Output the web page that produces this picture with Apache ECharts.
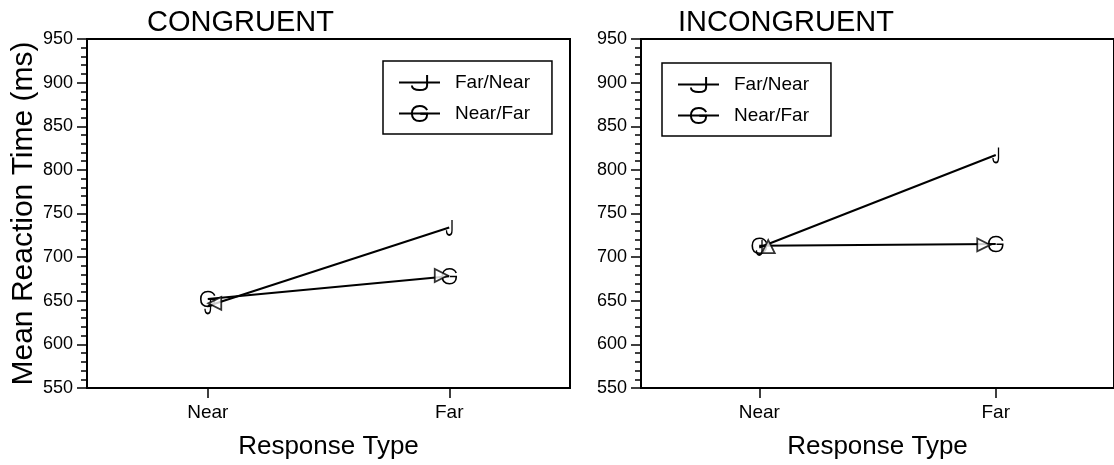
<!DOCTYPE html>
<html><head><meta charset="utf-8">
<script src="https://cdn.jsdelivr.net/npm/echarts@6/dist/echarts.min.js"></script>
<style>html,body{margin:0;padding:0;background:#fff}#c{width:1114px;height:465px}</style>
</head><body><div id="c"></div>
<script>
// ---- data ----
var categories = ['Near', 'Far'];
var yTicks = [550, 600, 650, 700, 750, 800, 850, 900, 950];
var seriesNames = ['Far/Near', 'Near/Far'];
var panelTitles = ['CONGRUENT', 'INCONGRUENT'];
var congFarNear = [644, 734];
var congNearFar = [652, 678];
var congArrow = [647, 679];
var incFarNear = [711, 817];
var incNearFar = [713, 715];
var incArrow = [711, 714];

// ---- styles ----
var FONT = 'Liberation Sans, Arial, sans-serif';
var J_PATH = 'path://M9,0 L9,10 C9,13.5 7.2,14.5 5,14.5 C2.6,14.5 1,13 1,10';
var G_PATH = 'path://M14,4 C13,1.5 11,0 7.5,0 C3,0 0.6,3 0.6,7.2 C0.6,11.4 3,14.4 7.5,14.4 C11.6,14.4 14,11.8 14,8.2 L14,7.4 L8,7.4';

function yAxis(idx, withName) {
  return {
    type: 'value', gridIndex: idx, min: 550, max: 950, interval: 50,
    axisLine: {show: true, lineStyle: {color: '#000', width: 2}},
    axisTick: {show: true, length: 10, lineStyle: {color: '#000', width: 1.5}},
    minorTick: {show: true, splitNumber: 5, length: 6, lineStyle: {color: '#000', width: 1.5}},
    splitLine: {show: false},
    axisLabel: {color: '#000', fontFamily: FONT, fontSize: 18, margin: 14,
      formatter: function (v) { return yTicks.indexOf(v) >= 0 ? String(v) : ''; }},
    name: withName ? 'Mean Reaction Time (ms)' : '',
    nameLocation: 'middle', nameGap: 47,
    nameTextStyle: {color: '#000', fontFamily: FONT, fontSize: 30}
  };
}
function xAxis(idx) {
  return {
    type: 'category', gridIndex: idx, data: categories, boundaryGap: true,
    axisLine: {show: true, lineStyle: {color: '#000', width: 2}},
    axisTick: {show: true, alignWithLabel: true, length: 10, lineStyle: {color: '#000', width: 1.5}},
    axisLabel: {color: '#000', fontFamily: FONT, fontSize: 19, margin: 15},
    name: 'Response Type', nameLocation: 'middle', nameGap: 46,
    nameTextStyle: {color: '#000', fontFamily: FONT, fontSize: 26}
  };
}
function lineSeries(name, idx, data, path, size) {
  return {
    name: name, type: 'line', xAxisIndex: idx, yAxisIndex: idx, data: data,
    color: '#000', symbol: path, symbolSize: size, symbolKeepAspect: true,
    showSymbol: true,
    lineStyle: {color: '#000', width: 2},
    itemStyle: {color: 'rgba(0,0,0,0)', borderColor: '#000', borderWidth: 1.6},
    emphasis: {disabled: true}, z: 3
  };
}
function arrowSeries(idx, vals, rots, offs) {
  return {
    name: 'arrow', type: 'scatter', xAxisIndex: idx, yAxisIndex: idx,
    data: vals.map(function (v, i) {
      return {value: [categories[i], v], symbolRotate: rots[i], symbolOffset: offs[i]};
    }),
    symbol: 'triangle', symbolSize: [13, 13],
    itemStyle: {color: '#fff', borderColor: '#000', borderWidth: 1.8},
    emphasis: {disabled: true}, z: 4
  };
}
function legend(left, top) {
  return {
    data: seriesNames, orient: 'vertical', left: left, top: top,
    itemWidth: 41, itemHeight: 19, itemGap: 12,
    padding: [12, 22, 11, 15],
    borderColor: '#000', borderWidth: 1.5, backgroundColor: '#fff',
    textStyle: {color: '#000', fontFamily: FONT, fontSize: 19, padding: [0, 0, 0, 10]}
  };
}

var chart = echarts.init(document.getElementById('c'), null, {renderer: 'canvas'});
chart.setOption({
  animation: false,
  backgroundColor: '#fff',
  title: [
    {text: panelTitles[0], left: 147, top: 8, padding: 0, textStyle: {color: '#000', fontFamily: FONT, fontSize: 29, fontWeight: 'normal'}},
    {text: panelTitles[1], left: 678, top: 8, padding: 0, textStyle: {color: '#000', fontFamily: FONT, fontSize: 29, fontWeight: 'normal'}}
  ],
  grid: [
    {left: 87, top: 39, width: 483, height: 362, show: true, borderColor: '#000', borderWidth: 2, backgroundColor: 'transparent'},
    {left: 641, top: 39, width: 483, height: 362, show: true, borderColor: '#000', borderWidth: 2, backgroundColor: 'transparent'}
  ],
  xAxis: [xAxis(0), xAxis(1)],
  yAxis: [yAxis(0, true), yAxis(1, false)],
  legend: [legend(383, 61), legend(662, 63)],
  series: [
    lineSeries(seriesNames[0], 0, congFarNear, J_PATH, [10, 15]),
    lineSeries(seriesNames[1], 0, congNearFar, G_PATH, [15, 15]),
    arrowSeries(0, congArrow, [90, -90], [[7, 0], [-8, 0]]),
    lineSeries(seriesNames[0], 1, incFarNear, J_PATH, [10, 15]),
    lineSeries(seriesNames[1], 1, incNearFar, G_PATH, [15, 15]),
    arrowSeries(1, incArrow, [0, -90], [[9, -1], [-12, 0]])
  ]
});
</script>
</body></html>
